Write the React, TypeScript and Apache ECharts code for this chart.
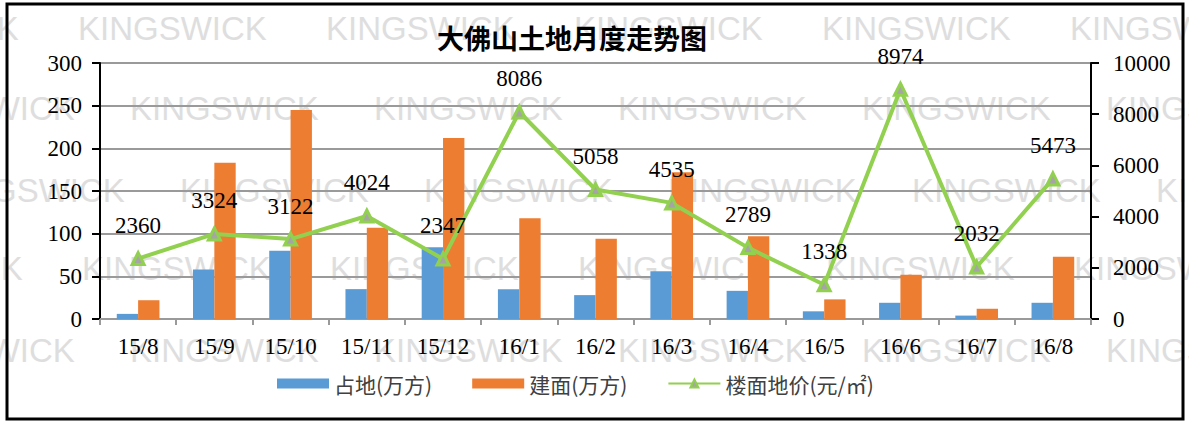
import React, { useEffect, useRef } from "react";
import * as echarts from "echarts";

const categories = ["15/8", "15/9", "15/10", "15/11", "15/12", "16/1", "16/2", "16/3", "16/4", "16/5", "16/6", "16/7", "16/8"];
const landArea = [6, 58, 80, 35, 84, 35, 28, 56, 33, 9, 19, 4, 19];
const buildArea = [22, 183, 245, 107, 212, 118, 94, 172, 97, 23, 52, 12, 73];
const floorPrice = [2360, 3324, 3122, 4024, 2347, 8086, 5058, 4535, 2789, 1338, 8974, 2032, 5473];
const seriesNames = ["占地(万方)", "建面(万方)", "楼面地价(元/㎡)"];
const titleText = "大佛山土地月度走势图";
const watermarkText = "KINGSWICK";

// watermark rows: [y center, first x, spacing]
const watermarkRows: [number, number, number][] = [
  [28, -170, 248],
  [108, -114, 244],
  [190, -64, 244],
  [268, -166, 248],
  [350, -114, 244],
];

const SERIF = "Liberation Serif";
const CJK = "Noto Sans CJK SC";

export default function App() {
  const ref = useRef<HTMLDivElement>(null);
  useEffect(() => {
    if (!ref.current) return;
    const chart = echarts.init(ref.current, null, { renderer: "svg" });
    const wm: any[] = [];
    watermarkRows.forEach(([y, x0, dx]) => {
      for (let x = x0; x < 1189; x += dx) {
        wm.push({
          type: "text",
          x,
          y,
          z: -10,
          silent: true,
          style: {
            text: watermarkText,
            fill: "#dedede",
            fontSize: 33,
            fontFamily: "Liberation Sans",
            verticalAlign: "middle",
          },
        });
      }
    });
    chart.setOption({
      animation: false,
      backgroundColor: "#ffffff",
      title: {
        text: titleText,
        left: 437,
        top: 24,
        padding: 0,
        textStyle: { fontFamily: CJK, fontSize: 27, fontWeight: "bold", color: "#000" },
      },
      graphic: [
        ...wm,
        {
          type: "rect",
          z: 100,
          silent: true,
          shape: { x: 7, y: 4, width: 1176, height: 415 },
          style: { fill: "none", stroke: "#000", lineWidth: 3 },
        },
      ],
      legend: {
        left: 272,
        top: 368,
        itemWidth: 52,
        itemHeight: 10,
        itemGap: 40,
        textStyle: { fontFamily: CJK, fontSize: 21, color: "#404040" },
        data: [
          { name: seriesNames[0], icon: "rect" },
          { name: seriesNames[1], icon: "rect" },
          { name: seriesNames[2] },
        ],
      },
      grid: { left: 100, right: 98, top: 63, bottom: 103, containLabel: false },
      xAxis: {
        type: "category",
        data: categories,
        boundaryGap: true,
        axisLine: { show: true, lineStyle: { color: "#9a9a9a", width: 2 } },
        axisTick: { show: true, length: 6, lineStyle: { color: "#9a9a9a", width: 2 } },
        axisLabel: { margin: 16, fontFamily: SERIF, fontSize: 23, color: "#000" },
      },
      yAxis: [
        {
          type: "value",
          min: 0,
          max: 300,
          interval: 50,
          axisLine: { show: true, lineStyle: { color: "#000", width: 2 } },
          axisTick: { show: true, length: 8, lineStyle: { color: "#000", width: 2 } },
          axisLabel: { margin: 18, fontFamily: SERIF, fontSize: 23, color: "#000" },
          splitLine: { show: true, lineStyle: { color: "#9a9a9a", width: 2 } },
        },
        {
          type: "value",
          min: 0,
          max: 10000,
          interval: 2000,
          position: "right",
          axisLine: { show: true, lineStyle: { color: "#000", width: 2 } },
          axisTick: { show: true, length: 8, lineStyle: { color: "#000", width: 2 } },
          axisLabel: {
            margin: 22,
            fontFamily: SERIF,
            fontSize: 23,
            color: "#000",
            formatter: (v: number) => String(v),
          },
          splitLine: { show: false },
        },
      ],
      series: [
        {
          name: seriesNames[0],
          type: "bar",
          data: landArea,
          barGap: "0%",
          barCategoryGap: "44%",
          itemStyle: { color: "#5B9BD5" },
        },
        {
          name: seriesNames[1],
          type: "bar",
          data: buildArea,
          barGap: "0%",
          barCategoryGap: "44%",
          itemStyle: { color: "#ED7D31" },
        },
        {
          name: seriesNames[2],
          type: "line",
          yAxisIndex: 1,
          data: floorPrice,
          symbol: "triangle",
          symbolSize: 12,
          lineStyle: { color: "#92D050", width: 4 },
          itemStyle: { color: "#A5A5A5", borderColor: "#92D050", borderWidth: 3 },
          label: {
            show: true,
            position: "top",
            distance: 14,
            fontFamily: SERIF,
            fontSize: 23,
            color: "#000",
          },
          z: 5,
        },
      ],
    });
    return () => chart.dispose();
  }, []);
  return (
    <div
      ref={ref}
      style={{ position: "absolute", left: 0, top: 0, width: 1189, height: 422 }}
    />
  );
}
